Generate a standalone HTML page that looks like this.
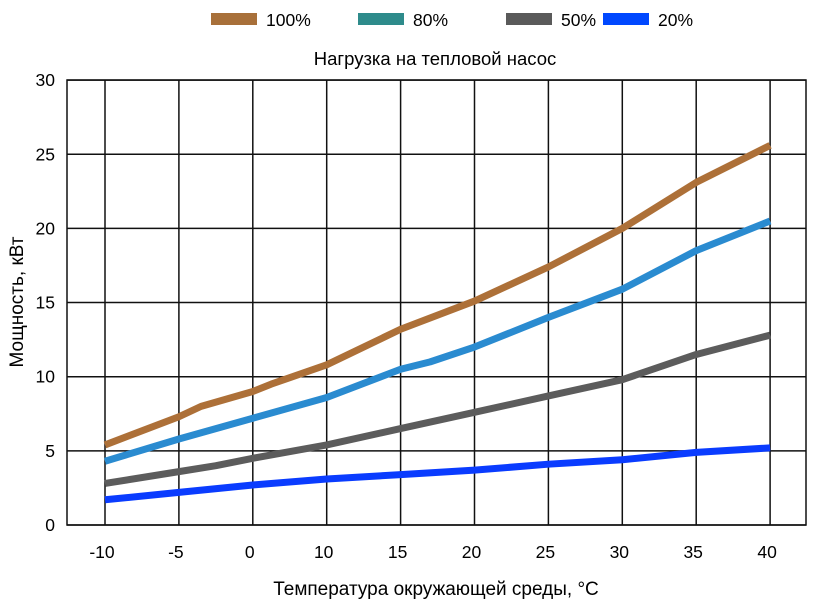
<!DOCTYPE html>
<html><head><meta charset="utf-8"><style>
body{margin:0;background:#fff;font-family:"Liberation Sans",sans-serif}
text{font-family:"Liberation Sans",sans-serif;fill:#000}
</style></head><body>
<svg id="chart" width="816" height="605">
<g id="legend"></g>
<text x="435" y="65" font-size="18.5" text-anchor="middle">Нагрузка на тепловой насос</text>
<g id="grid"></g>
<g id="series"></g>
<text x="436" y="595" font-size="19" text-anchor="middle">Температура окружающей среды, °C</text>
<text transform="translate(23,302) rotate(-90)" font-size="19" text-anchor="middle">Мощность, кВт</text>
</svg>
<script>
// categorical x axis (equally spaced categories)
const xLabels=["-10","-5","0","10","15","20","25","30","35","40"];
const yTicks=[0,5,10,15,20,25,30];
const seriesNames=["100%","80%","50%","20%"];
// x given as category index (fractional = between categories)
const x100=[0,1,1.3,2,2.25,3,4,5,6,7,8,9];
const y100=[5.4,7.3,8.0,9,9.5,10.8,13.2,15.1,17.4,20,23.1,25.6];
const x80=[0,1,2,3,4,4.4,5,6,7,8,9];
const y80=[4.3,5.8,7.2,8.6,10.5,11,12,14,15.9,18.5,20.5];
const x50=[0,1,1.5,2,3,4,5,6,7,8,9];
const y50=[2.8,3.6,4,4.5,5.4,6.5,7.6,8.7,9.8,11.5,12.8];
const x20=[0,1,2,3,4,5,6,7,8,9];
const y20=[1.7,2.2,2.7,3.1,3.4,3.7,4.1,4.4,4.9,5.2];
const NS="http://www.w3.org/2000/svg";
const X=i=>105+i*73.9;
const Y=v=>525-v*14.83;
function mk(t,a,p){const e=document.createElementNS(NS,t);for(const k in a)e.setAttribute(k,a[k]);p.appendChild(e);return e;}
const grid=document.getElementById('grid');
const fr=mk('rect',{x:67,y:80,width:739,height:445,fill:'none',stroke:'#111','stroke-width':1.5},grid);


xLabels.forEach((lab,i)=>{
  const l=mk('line',{x1:X(i),x2:X(i),y1:80,y2:525,stroke:'#111','stroke-width':1.5},grid);
  
  
  const tx=mk('text',{x:X(i)-3,y:558,'font-size':17.5,'text-anchor':'middle'},grid);tx.textContent=lab;
  
  
});
yTicks.forEach(t=>{
  const l=mk('line',{x1:67,x2:806,y1:Y(t),y2:Y(t),stroke:'#111','stroke-width':1.5},grid);
  
  
  const tx=mk('text',{x:55,y:Y(t)+6,'font-size':17.5,'text-anchor':'end'},grid);tx.textContent=t;
  
  
});
const sg=document.getElementById('series');
[[x100,y100,'#ad7038','line-100'],[x80,y80,'#2a8bd0','line-80'],[x50,y50,'#5c5c5c','line-50'],[x20,y20,'#0a3cff','line-20']].forEach(s=>{
  const p=mk('polyline',{points:s[0].map((v,i)=>X(v)+','+Y(s[1][i])).join(' '),fill:'none',stroke:s[2],'stroke-width':7,'stroke-linejoin':'round'},sg);
  
  
});
const lg=document.getElementById('legend');
const lc=['#a8703a','#2e8b8b','#5a5a5a','#0048ff'];const lx=[211,358,506,603];
seriesNames.forEach((n,i)=>{
  const r=mk('rect',{x:lx[i],y:13,width:46,height:12,fill:lc[i]},lg);
  
  
  const t=mk('text',{x:lx[i]+55,y:26,'font-size':17.5},lg);t.textContent=n;
  
  
});
</script>
</body></html>
